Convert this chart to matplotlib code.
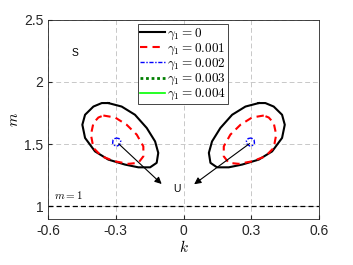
import numpy as np
import matplotlib.pyplot as plt

plt.rcParams['font.family'] = ['Liberation Sans', 'DejaVu Sans']
plt.rcParams['mathtext.fontset'] = 'cm'

# 左側の閉曲線 (右側は k -> -k の鏡像)
gamma_labels = [r'$\gamma_1 = 0$', r'$\gamma_1 = 0.001$', r'$\gamma_1 = 0.002$',
                r'$\gamma_1 = 0.003$', r'$\gamma_1 = 0.004$']

k_g0 = [-0.333, -0.274, -0.215, -0.163, -0.126, -0.112, -0.119, -0.148, -0.200,
        -0.259, -0.333, -0.392, -0.436, -0.448, -0.436, -0.399, -0.362, -0.333]
m_g0 = [1.830, 1.802, 1.736, 1.630, 1.522, 1.430, 1.350, 1.314, 1.314,
        1.336, 1.376, 1.442, 1.550, 1.656, 1.736, 1.802, 1.830, 1.830]

k_g1 = [-0.355, -0.303, -0.252, -0.207, -0.178, -0.178, -0.200, -0.244, -0.303,
        -0.362, -0.399, -0.410, -0.399, -0.377, -0.355]
m_g1 = [1.730, 1.714, 1.656, 1.576, 1.482, 1.402, 1.350, 1.342, 1.362,
        1.402, 1.470, 1.576, 1.670, 1.714, 1.730]

k_g2 = [-0.300, -0.286, -0.278, -0.281, -0.292, -0.306, -0.314, -0.312, -0.300]
m_g2 = [1.550, 1.545, 1.526, 1.502, 1.486, 1.490, 1.508, 1.534, 1.550]

# gamma1 = 0.003, 0.004 は点に縮退
k_g3 = [-0.296]
m_g3 = [1.518]
k_g4 = [-0.296]
m_g4 = [1.518]

curves = [(k_g0, m_g0), (k_g1, m_g1), (k_g2, m_g2), (k_g3, m_g3), (k_g4, m_g4)]
styles = [dict(color='black', linestyle='-', linewidth=1.5),
          dict(color='red', linestyle=(0, (3.5, 2.5)), linewidth=1.5),
          dict(color='blue', linestyle=(0, (3, 1.2, 1, 1.2)), linewidth=1.0),
          dict(color='#007f00', linestyle=(0, (1, 1)), linewidth=2.0),
          dict(color='#00ff00', linestyle='-', linewidth=1.2)]

fig = plt.figure(figsize=(3.53, 2.65), dpi=100)
ax = fig.add_axes([0.136, 0.174, 0.768, 0.752])

for (kk, mm), st, lab in zip(curves, styles, gamma_labels):
    kk = np.array(kk)
    ax.plot(kk, mm, label=lab, **st)
    ax.plot(-kk, mm, **st)

# m = 1 の線
ax.axhline(1.0, color='black', linestyle=(0, (4, 2.5)), linewidth=0.9)
ax.text(-0.575, 1.06, r'$m=1$', fontsize=8)

# 矢印
arrow = dict(arrowstyle='-|>', color='black', lw=0.8, mutation_scale=10)
ax.annotate('', xy=(-0.088, 1.165), xytext=(-0.296, 1.518), arrowprops=arrow)
ax.annotate('', xy=(0.037, 1.165), xytext=(0.302, 1.518), arrowprops=arrow)
ax.text(-0.03, 1.136, 'U', fontsize=7.5, ha='center', va='center')
ax.text(-0.48, 2.23, 'S', fontsize=7.5, ha='center', va='center')

ax.set_xlim(-0.6, 0.6)
ax.set_ylim(0.9, 2.5)
ax.set_xticks([-0.6, -0.3, 0, 0.3, 0.6])
ax.set_xticklabels(['-0.6', '-0.3', '0', '0.3', '0.6'])
ax.set_yticks([1, 1.5, 2, 2.5])
ax.set_yticklabels(['1', '1.5', '2', '2.5'])
ax.tick_params(direction='in', length=3, labelsize=10, color='#262626', labelcolor='#262626')
ax.grid(True, color='#c8c8c8', linestyle=(0, (5, 3)), linewidth=0.7)
for sp in ax.spines.values():
    sp.set_color('#262626')
    sp.set_linewidth(0.6)

ax.set_xlabel(r'$k$', fontsize=11, labelpad=1)
ax.set_ylabel(r'$m$', fontsize=11, labelpad=2)

leg = ax.legend(loc='upper left', bbox_to_anchor=(0.332, 0.976), fontsize=9.5,
                fancybox=False, framealpha=1, edgecolor='#262626',
                handlelength=1.9, handletextpad=0.15, labelspacing=0.0,
                borderpad=0.15, borderaxespad=0)
leg.get_frame().set_linewidth(0.6)

fig.savefig('out.png', dpi=100)
